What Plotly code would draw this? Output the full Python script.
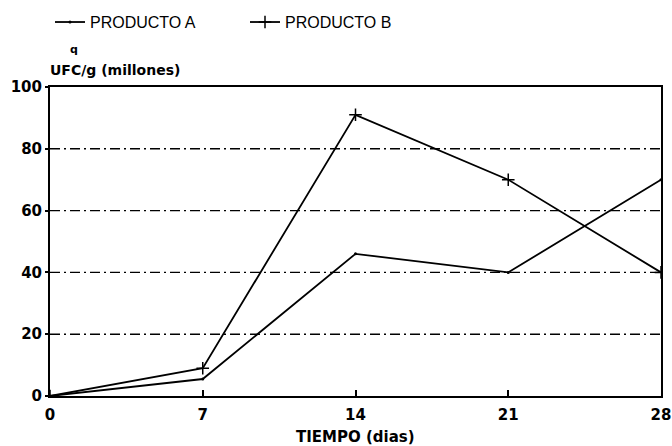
import plotly.graph_objects as go

dias = [0, 7, 14, 21, 28]
producto_a = [0, 5.5, 46, 40, 70]
producto_b = [0, 9, 91, 70, 40]
x_ticks = [0, 7, 14, 21, 28]
y_ticks = [0, 20, 40, 60, 80, 100]

BOLD = "DejaVu Sans, Arial, sans-serif"
PLAIN = "Liberation Sans, Arial, sans-serif"

fig = go.Figure()
fig.add_trace(go.Scatter(
    x=dias, y=producto_a, name="PRODUCTO A", mode="lines+markers",
    line=dict(color="black", width=1.8),
    marker=dict(symbol="circle", size=3, color="black"),
))
fig.add_trace(go.Scatter(
    x=dias, y=producto_b, name="PRODUCTO B", mode="lines+markers",
    line=dict(color="black", width=1.8),
    marker=dict(symbol="cross-thin", size=9, line=dict(color="black", width=1.5)),
))

for v in [20, 40, 60, 80]:
    fig.add_hline(y=v, line=dict(color="black", width=1.4, dash="10px,4px,2px,4px"), layer="below")

fig.update_layout(
    width=672, height=446,
    margin=dict(l=50, r=11, t=87, b=50, autoexpand=False),
    paper_bgcolor="white", plot_bgcolor="white",
    font=dict(family=PLAIN, color="black"),
    showlegend=True,
    legend=dict(
        orientation="h", x=0.0, y=1.21, xanchor="left", yanchor="middle",
        font=dict(size=16, family=PLAIN, color="black"),
        entrywidth=150, entrywidthmode="pixels", itemwidth=30,
        bgcolor="rgba(0,0,0,0)",
    ),
    xaxis=dict(
        range=[0, 28], tickvals=x_ticks, ticktext=[str(t) for t in x_ticks],
        showgrid=False, zeroline=False,
        showline=True, linecolor="black", linewidth=2, mirror=True,
        ticks="inside", ticklen=6, tickwidth=1.5, tickcolor="black",
        ticklabelstandoff=4,
        tickfont=dict(size=15, family=BOLD, color="black", weight="bold"),
    ),
    yaxis=dict(
        range=[0, 100], tickvals=y_ticks, ticktext=[str(t) for t in y_ticks],
        showgrid=False, zeroline=False,
        showline=True, linecolor="black", linewidth=2, mirror=True,
        ticks="outside", ticklen=3, tickwidth=1.5, tickcolor="black",
        tickfont=dict(size=15, family=BOLD, color="black", weight="bold"),
    ),
)

fig.add_annotation(
    text="<b>TIEMPO (dias)</b>", xref="paper", yref="paper",
    x=0.5, y=-0.133, xanchor="center", yanchor="middle", showarrow=False,
    font=dict(size=15, family=BOLD, color="black"),
)
fig.add_annotation(
    text="<b>UFC/g (millones)</b>", xref="paper", yref="paper",
    x=-0.003, y=1.055, xanchor="left", yanchor="middle", showarrow=False,
    font=dict(size=14, family=BOLD, color="black"),
)
fig.add_annotation(
    text="<b>q</b>", xref="paper", yref="paper",
    x=0.04, y=1.12, xanchor="center", yanchor="middle", showarrow=False,
    font=dict(size=11, family=BOLD, color="black"),
)

fig.write_html("out.html", config={"displayModeBar": False},
               post_script="document.body.style.margin='0px';")
